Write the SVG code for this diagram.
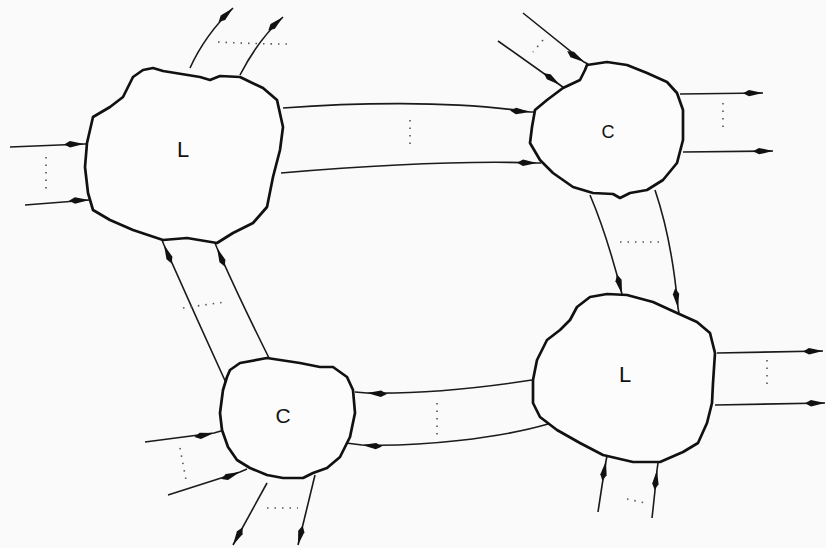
<svg xmlns="http://www.w3.org/2000/svg" width="826" height="548" viewBox="0 0 826 548">
<style>
.bg{fill:#fafafa}
.blob{fill:#fcfcfc;stroke:#111;stroke-width:2.7;stroke-linejoin:round}
.lbl{font-family:"Liberation Sans",Arial,sans-serif;fill:#111;text-anchor:middle}
.conn{fill:none;stroke:#1a1a1a;stroke-width:1.6}
.in{marker-mid:url(#ah)}
.out{marker-end:url(#ah)}
.dots{fill:none;stroke:#555;stroke-width:1.6;stroke-dasharray:1.5 6}
</style>
<defs>
<marker id="ah" viewBox="0 0 20 8" refX="20" refY="4" markerWidth="20" markerHeight="8" markerUnits="userSpaceOnUse" orient="auto">
<path d="M0,4 L6,0.8 L20,4 L6,7.2 z" fill="#111"/>
</marker>
</defs>
<rect class="bg" x="0" y="0" width="826" height="548"/>
<g id="connectors">
<path class="conn out" d="M190,68 Q205,35 233,8"/>
<path class="conn out" d="M240,75 Q258,40 283,17"/>
<path class="dots" d="M218,42 Q255,44 292,44"/>
<path class="conn in" d="M10,147 L84,144 L87,144"/>
<path class="conn in" d="M25,205 L89,200 L92,200"/>
<path class="dots" d="M46,157 L46,192"/>
<path class="conn in" d="M283,108 C350,103 450,100 530,112 L535,112"/>
<path class="conn in" d="M281,173 C340,168 450,160 537,163 L541,163"/>
<path class="dots" d="M410,120 L410,150"/>
<path class="conn in" d="M523,13 L584,62 L588,64"/>
<path class="conn in" d="M498,41 L560,85 L564,88"/>
<path class="dots" d="M543,40 L533,52"/>
<path class="conn out" d="M680,94 L763,93"/>
<path class="conn out" d="M683,152 L773,151"/>
<path class="dots" d="M723,103 L723,133"/>
<path class="conn out" d="M590,195 Q607,235 622,294"/>
<path class="conn in" d="M655,190 Q672,240 678,308 L679,313"/>
<path class="dots" d="M620,242 L660,242"/>
<path class="conn out" d="M717,353 L823,351"/>
<path class="conn out" d="M715,405 L825,403"/>
<path class="dots" d="M767,360 L767,388"/>
<path class="conn in" d="M598,512 Q602,485 606,461 L607,456"/>
<path class="conn in" d="M652,518 Q655,492 657,470 L658,463"/>
<path class="dots" d="M627,499 L645,503"/>
<path class="conn in" d="M532,380 C480,388 420,394 367,393 L355,392"/>
<path class="conn in" d="M548,424 C500,438 420,447 362,445 L346,443"/>
<path class="dots" d="M437,403 L437,435"/>
<path class="conn in" d="M145,442 L214,433 L221,431"/>
<path class="conn in" d="M168,495 L240,472 L247,469"/>
<path class="dots" d="M180,448 L186,480"/>
<path class="conn out" d="M267,483 L233,545"/>
<path class="conn out" d="M315,475 L298,545"/>
<path class="dots" d="M267,508 L298,508"/>
<path class="conn in" d="M227,385 Q195,315 164,245 L162,240"/>
<path class="conn in" d="M270,360 Q240,300 217,248 L215,243"/>
<path class="dots" d="M183,308 L225,302"/>
</g>
<g id="L1">
<path class="blob" d="M153,68 L163,71 L200,77 L210,80 L220,76 L240,77 L263,88 L277,100 L283,127 L280,150 L273,177 L267,207 L253,223 L233,233 L217,243 L187,238 L163,240 L133,230 L110,220 L93,210 L88,193 L85,167 L87,143 L93,117 L110,107 L123,97 L133,77 L143,70 Z"/>
<text class="lbl" x="183" y="157" font-size="22">L</text>
</g>
<g id="C1">
<path class="blob" d="M587,65 L607,62 L627,65 L647,73 L667,82 L677,93 L683,110 L683,140 L677,163 L663,180 L647,190 L630,193 L620,198 L613,194 L593,193 L573,187 L553,173 L540,160 L530,143 L532,127 L535,110 L547,100 L563,88 L580,80 L585,70 Z"/>
<text class="lbl" x="608" y="138" font-size="18">C</text>
</g>
<g id="L2">
<path class="blob" d="M607,294 L627,295 L653,302 L677,313 L697,322 L710,333 L715,353 L713,383 L712,403 L707,423 L698,443 L683,452 L660,462 L633,462 L603,455 L580,443 L557,430 L540,417 L533,403 L533,380 L537,360 L547,340 L560,330 L570,320 L577,307 L590,297 Z"/>
<text class="lbl" x="625" y="382" font-size="22">L</text>
</g>
<g id="C2">
<path class="blob" d="M230,370 L240,363 L267,358 L300,363 L320,367 L333,367 L347,377 L353,390 L355,413 L350,437 L340,457 L327,468 L313,473 L303,478 L283,478 L267,475 L250,468 L237,460 L228,447 L222,430 L220,413 L223,390 L227,377 Z"/>
<text class="lbl" x="283" y="423" font-size="21">C</text>
</g>
</svg>
